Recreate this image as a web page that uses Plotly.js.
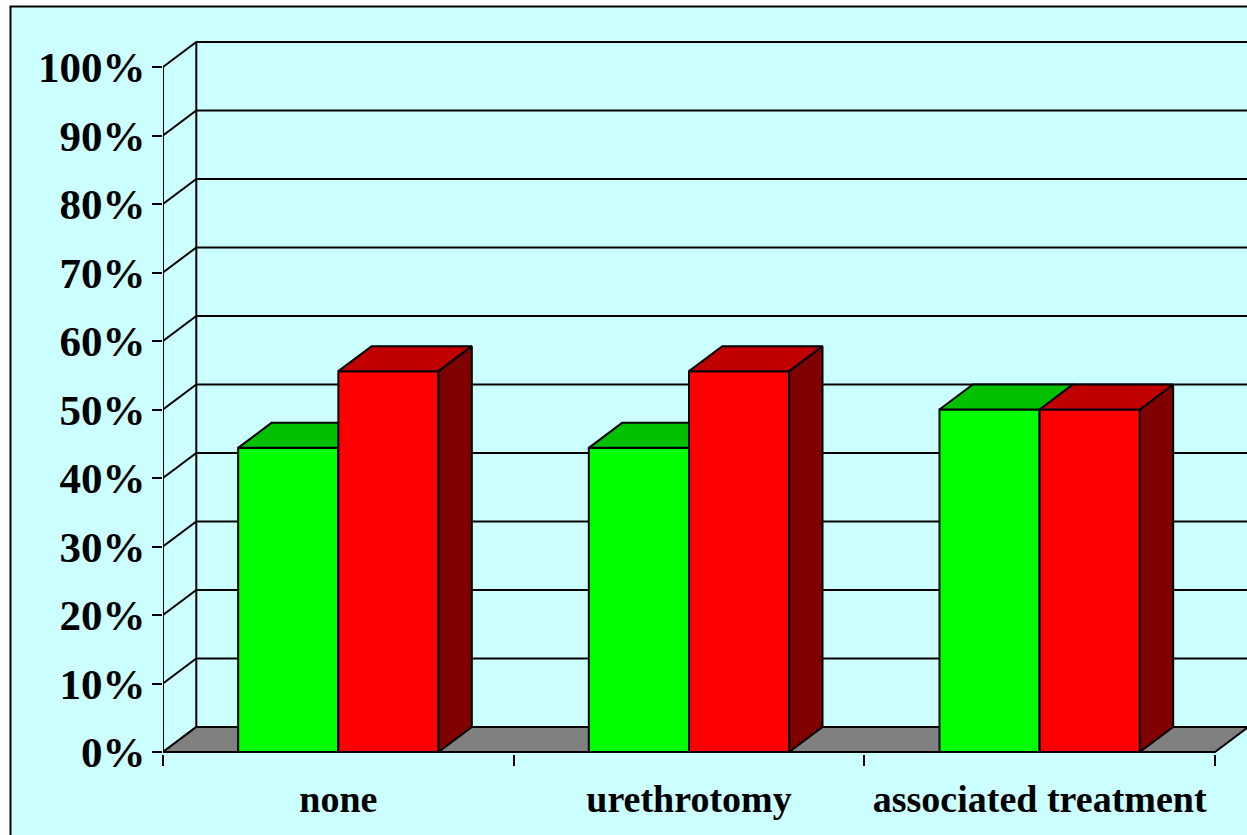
<!DOCTYPE html>
<html><head><meta charset="utf-8">
<script src="https://cdn.plot.ly/plotly-3.0.1.min.js"></script>
<style>html,body{margin:0;padding:0;background:#fff;}#chart{width:1247px;height:835px;}</style>
</head><body><div id="chart"></div>
<script>
// ---- data ----
const categories = ['none', 'urethrotomy', 'associated treatment'];
const greenValues = [0.444, 0.444, 0.50];
const redValues = [0.556, 0.556, 0.50];
const yTickValues = [0, 0.1, 0.2, 0.3, 0.4, 0.5, 0.6, 0.7, 0.8, 0.9, 1.0];

// ---- geometry / style ----
const W = 1247, H = 835;
const ML = 163, MR = 0, MT = 20, MB = 81;
const UNIT_X = 350.67, UNIT_Y = 685;
const DX = 33.3 / UNIT_X, DY = 25 / UNIT_Y;      // 3-D depth offset in data units
const BAR_W = 1 / 3.5;                            // gap width 150%
const X0 = -0.5, X1 = categories.length - 0.5;
const xRange = [X0, X0 + (W - ML - MR) / UNIT_X];
const yRange = [-(2 / UNIT_Y), (752 - MT) / UNIT_Y];
const plotH = H - MT - MB, plotW = W - ML - MR;

const LINE = {color: '#000', width: 2};
const COLORS = {
  green: {front: '#00FF00', top: '#00C000', side: '#008000'},
  red:   {front: '#FF0000', top: '#C00000', side: '#800000'}
};

function face(xs, ys, fill) {
  return {type: 'scatter', mode: 'lines', x: xs.concat([xs[0]]), y: ys.concat([ys[0]]),
    fill: 'toself', fillcolor: fill, line: LINE, hoverinfo: 'skip', showlegend: false};
}

const traces = [];

// walls: grid lines (side wall diagonal + back wall horizontal)
const gx = [], gy = [];
yTickValues.forEach(v => {
  gx.push(X0, X0 + DX, X1 + DX + 1, null);
  gy.push(v, v + DY, v + DY, null);
});
gx.push(X0 + DX, X0 + DX, null); gy.push(DY, 1 + DY, null);
traces.push({type: 'scatter', mode: 'lines', x: gx, y: gy, line: LINE, hoverinfo: 'skip', showlegend: false});

// floor
traces.push(face([X0, X1, X1 + DX, X0 + DX], [0, 0, DY, DY], '#808080'));

// front value axis line
traces.push({type: 'scatter', mode: 'lines', x: [X0, X0], y: [0, 1], line: LINE, hoverinfo: 'skip', showlegend: false});

function bar(x0, v, c) {
  const x1 = x0 + BAR_W;
  traces.push(face([x0, x1, x1, x0], [0, 0, v, v], c.front));
  traces.push(face([x1, x1 + DX, x1 + DX, x1], [0, DY, v + DY, v], c.side));
  traces.push(face([x0, x1, x1 + DX, x0 + DX], [v, v, v + DY, v + DY], c.top));
}
categories.forEach((cat, i) => {
  bar(i - BAR_W, greenValues[i], COLORS.green);
  bar(i, redValues[i], COLORS.red);
});

const FONT = 'Liberation Serif, Times New Roman, serif';
const layout = {
  width: W, height: H,
  margin: {l: ML, r: MR, t: MT, b: MB, pad: 0},
  paper_bgcolor: '#FFFFFF', plot_bgcolor: 'rgba(0,0,0,0)',
  showlegend: false,
  xaxis: {
    range: xRange, fixedrange: true, showgrid: false, zeroline: false, showline: false,
    tickmode: 'array', tickvals: categories.map((c, i) => i), ticktext: categories, ticks: '',
    tickfont: {family: FONT, size: 38, color: '#000', weight: 'bold'},
    ticklabelstandoff: 19,
    minor: {tickmode: 'array', tickvals: categories.map((c, i) => i - 0.5).concat([X1]),
      ticks: 'outside', ticklen: 11, tickwidth: 2, tickcolor: '#000', showgrid: false}
  },
  yaxis: {
    range: yRange, fixedrange: true, showgrid: false, zeroline: false, showline: false,
    tickmode: 'array', tickvals: yTickValues, tickformat: '.0%',
    ticks: 'outside', ticklen: 10, tickwidth: 2, tickcolor: '#000',
    tickfont: {family: FONT, size: 43, color: '#000', weight: 'bold'},
    ticklabelstandoff: -2
  },
  shapes: [{
    type: 'rect', xref: 'paper', yref: 'paper', layer: 'below',
    x0: (10.5 - ML) / plotW, x1: 1.2, y0: -0.5, y1: (H - MB - 6.5) / plotH,
    fillcolor: '#CCFFFF', line: {color: '#000', width: 2}
  }]
};

Plotly.newPlot('chart', traces, layout, {staticPlot: true, displayModeBar: false});
</script></body></html>
